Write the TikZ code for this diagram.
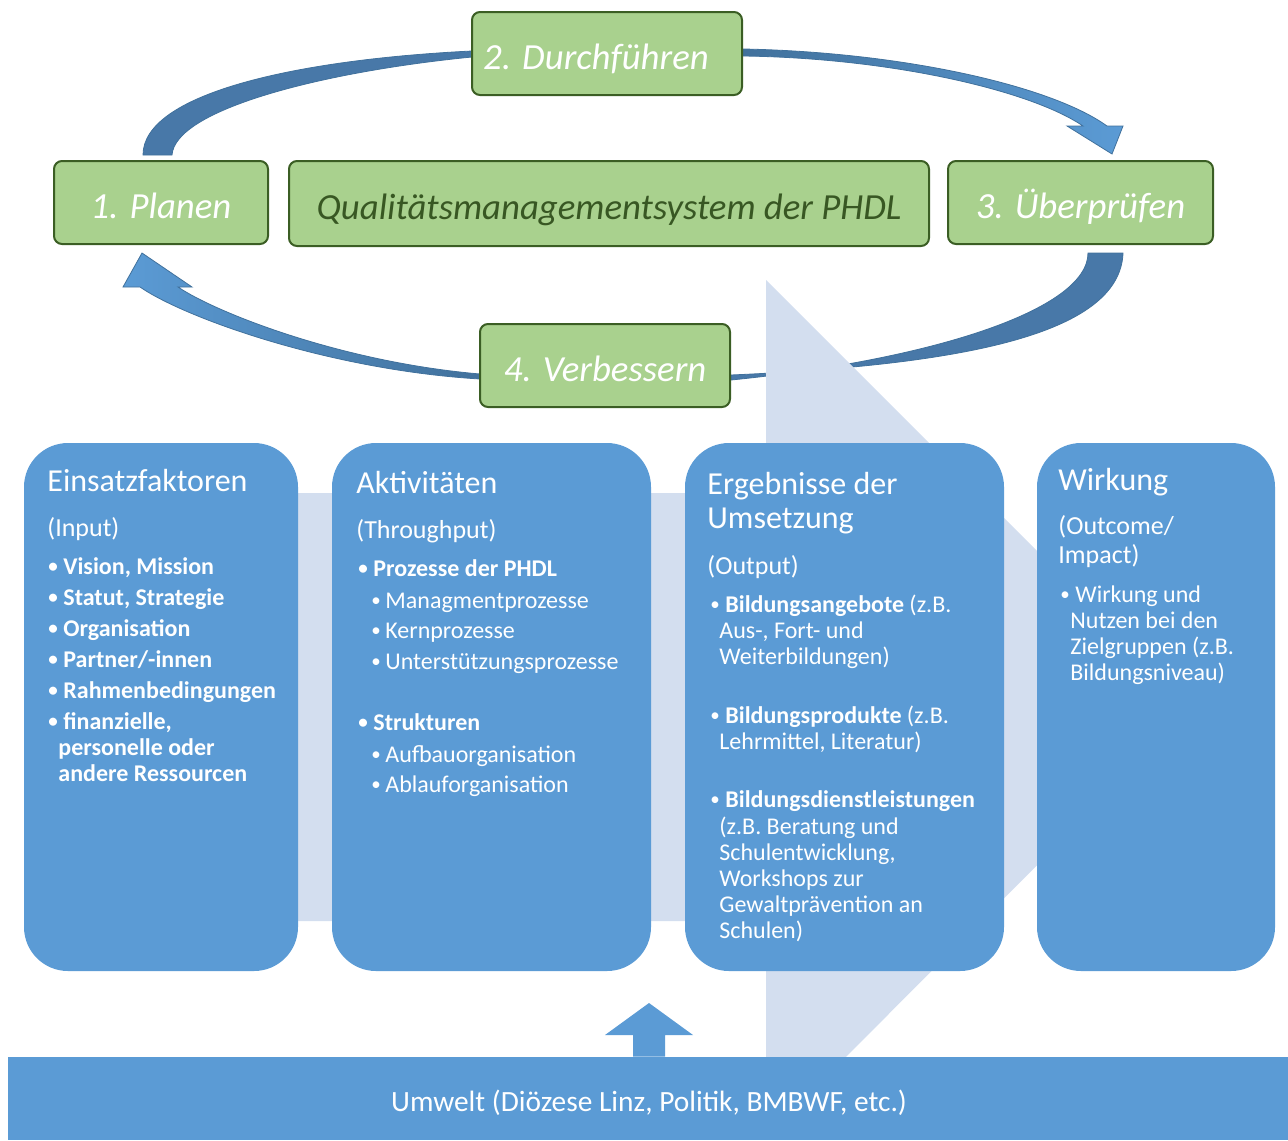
\documentclass[tikz,border=0pt]{standalone}
\usepackage{fontspec}
\setmainfont{Carlito}
\definecolor{boxblue}{HTML}{5B9BD5}
\definecolor{lightblue}{HTML}{D3DEEF}
\definecolor{gfill}{HTML}{A9D18E}
\definecolor{gdraw}{HTML}{3B5E24}
\definecolor{gtext}{HTML}{385723}
\definecolor{darr}{HTML}{41719C}
\definecolor{marr}{HTML}{4878A8}
\newcommand\mybul[1]{\makebox[#1][l]{\raisebox{0.6pt}{\fontsize{9.5}{9.5}\selectfont •}}}
\begin{document}
\begin{tikzpicture}[x=0.5pt,y=-0.5pt,
 gbox/.style={draw=gdraw, line width=1pt, fill=gfill, rounded corners=4pt, inner sep=0pt,
   text height=16pt, text depth=0pt,
   font=\fontsize{18.4}{22}\selectfont\itshape, text=white},
 bbox/.style={fill=boxblue, rounded corners=22pt, inner sep=0pt},
 ttl/.style={anchor=base west, inner sep=0pt, text=white, font=\fontsize{16}{19}\selectfont},
 sub/.style={anchor=base west, inner sep=0pt, text=white, font=\fontsize{13}{16}\selectfont},
 itm/.style={anchor=base west, inner sep=0pt, text=white, font=\fontsize{12}{14}\selectfont},
 bitm/.style={itm, font=\fontsize{12}{14}\selectfont\bfseries},
 arrdark/.style={fill=marr, draw=darr, line width=0.4pt},
]
\useasboundingbox (0,0) rectangle (1288,1140);

% curved cycle arrows
\fill[arrdark] (143,155) .. controls (143,95) and (290,60) .. (472,51)
  -- (472,57) .. controls (320,72) and (175,110) .. (172,155) -- cycle;
\shadedraw[left color=darr, right color=boxblue, draw=darr, line width=0.4pt]
  (743,49) .. controls (900,52) and (1050,85) .. (1107,126)
  -- (1123,126) -- (1112,154) -- (1067,126) -- (1083,126)
  .. controls (1030,90) and (890,58) .. (743,56) -- cycle;
\fill[arrdark] (1088,253) -- (1123,253) .. controls (1120,335) and (960,365) .. (731,375)
  -- (731,380) .. controls (930,360) and (1088,310) .. (1088,253) -- cycle;
\shadedraw[left color=boxblue, right color=darr, draw=darr, line width=0.4pt]
  (480,374) .. controls (340,362) and (215,312) .. (178,287)
  -- (192,287) -- (142,253) -- (123,287) -- (140,287)
  .. controls (185,318) and (330,370) .. (480,379) -- cycle;

% big light process arrow
\fill[lightblue] (200,493) -- (766,493) -- (766,280) -- (1194,708) -- (766,1137)
  -- (766,921) -- (200,921) -- cycle;

% green cycle boxes
\node[gbox, minimum width=135pt, minimum height=41.5pt] (durch) at (607,53.5) {\hspace*{-11pt}2. Durchführen};
\node[gbox, minimum width=107pt, minimum height=41.5pt] (plan) at (161,202.5) {1. Planen};
\node[gbox, minimum width=320pt, minimum height=42.5pt, text=gtext] (qms) at (609,203.5) {Qualitätsmanagementsystem der PHDL};
\node[gbox, minimum width=132.5pt, minimum height=41.5pt] (ueber) at (1080.5,202.5) {3. Überprüfen};
\node[gbox, minimum width=125pt, minimum height=41.5pt] (verb) at (605,365.5) {4. Verbessern};

% blue boxes
\node[bbox, minimum width=137pt, minimum height=264pt] (b1) at (161,707) {};
\node[bbox, minimum width=159.5pt, minimum height=264pt] (b2) at (491.5,707) {};
\node[bbox, minimum width=159.5pt, minimum height=264pt] (b3) at (844.5,707) {};
\node[bbox, minimum width=119pt, minimum height=264pt] (b4) at (1156,707) {};

% box 1 text
\node[ttl] (t1a) at (47,491) {Einsatzfaktoren};
\node[sub] (t1b) at (47,536) {(Input)};
\node[bitm] (t1c) at (48,574) {\mybul{7.5pt}Vision, Mission};
\node[bitm] (t1d) at (48,605) {\mybul{7.5pt}Statut, Strategie};
\node[bitm] (t1e) at (48,636) {\mybul{7.5pt}Organisation};
\node[bitm] (t1f) at (48,667) {\mybul{7.5pt}Partner/-innen};
\node[bitm] (t1g) at (48,698) {\mybul{7.5pt}Rahmenbedingungen};
\node[bitm] (t1h) at (48,729) {\mybul{7.5pt}finanzielle,};
\node[bitm] (t1i) at (58,755) {personelle oder};
\node[bitm] (t1j) at (58,781) {andere Ressourcen};

% box 2 text
\node[ttl] (t2a) at (356,493) {Aktivitäten};
\node[sub] (t2b) at (356,538) {(Throughput)};
\node[bitm] (t2c) at (358,576) {\mybul{7.5pt}Prozesse der PHDL};
\node[itm] (t2d) at (371,608) {\mybul{7pt}Managmentprozesse};
\node[itm] (t2e) at (371,638) {\mybul{7pt}Kernprozesse};
\node[itm] (t2f) at (371,669) {\mybul{7pt}Unterstützungsprozesse};
\node[bitm] (t2g) at (358,730) {\mybul{7.5pt}Strukturen};
\node[itm] (t2h) at (371,762) {\mybul{7pt}Aufbauorganisation};
\node[itm] (t2i) at (371,792) {\mybul{7pt}Ablauforganisation};

% box 3 text
\node[ttl] (t3a) at (707,494) {Ergebnisse der};
\node[ttl] (t3b) at (707,528) {Umsetzung};
\node[sub] (t3c) at (707,574) {(Output)};
\node[itm] (t3d) at (710,612) {\mybul{7.5pt}\textbf{Bildungsangebote} (z.B.};
\node[itm] (t3e) at (719,638) {Aus-, Fort- und};
\node[itm] (t3f) at (719,664) {Weiterbildungen)};
\node[itm] (t3g) at (710,723) {\mybul{7.5pt}\textbf{Bildungsprodukte} (z.B.};
\node[itm] (t3h) at (719,749) {Lehrmittel, Literatur)};
\node[itm] (t3i) at (710,807) {\mybul{7.5pt}\textbf{Bildungsdienstleistungen}};
\node[itm] (t3j) at (719,834) {(z.B. Beratung und};
\node[itm] (t3k) at (719,860) {Schulentwicklung,};
\node[itm] (t3l) at (719,886) {Workshops zur};
\node[itm] (t3m) at (719,912) {Gewaltprävention an};
\node[itm] (t3n) at (719,938) {Schulen)};

% box 4 text
\node[ttl] (t4a) at (1058,490) {Wirkung};
\node[sub] (t4b) at (1058,534) {(Outcome/};
\node[sub] (t4c) at (1058,563) {Impact)};
\node[itm] (t4d) at (1060,602) {\mybul{7.5pt}Wirkung und};
\node[itm] (t4e) at (1070,628) {Nutzen bei den};
\node[itm] (t4f) at (1070,654) {Zielgruppen (z.B.};
\node[itm] (t4g) at (1070,680) {Bildungsniveau)};

% environment bar and up arrow
\node[fill=boxblue, inner sep=0pt, minimum width=640pt, minimum height=41.5pt] (umwelt) at (648,1098.5) {};
\node[text=white, font=\fontsize{14.7}{17}\selectfont, inner sep=0pt] (umtext) at (649,1103)
  {Umwelt (Diözese Linz, Politik, BMBWF, etc.)};
\fill[boxblue] (umwelt.north -| 633,0) -- (633,1035) -- (605,1035) -- (649,1003)
  -- (693,1035) -- (665,1035) -- (umwelt.north -| 665,0) -- cycle;
\end{tikzpicture}
\end{document}
